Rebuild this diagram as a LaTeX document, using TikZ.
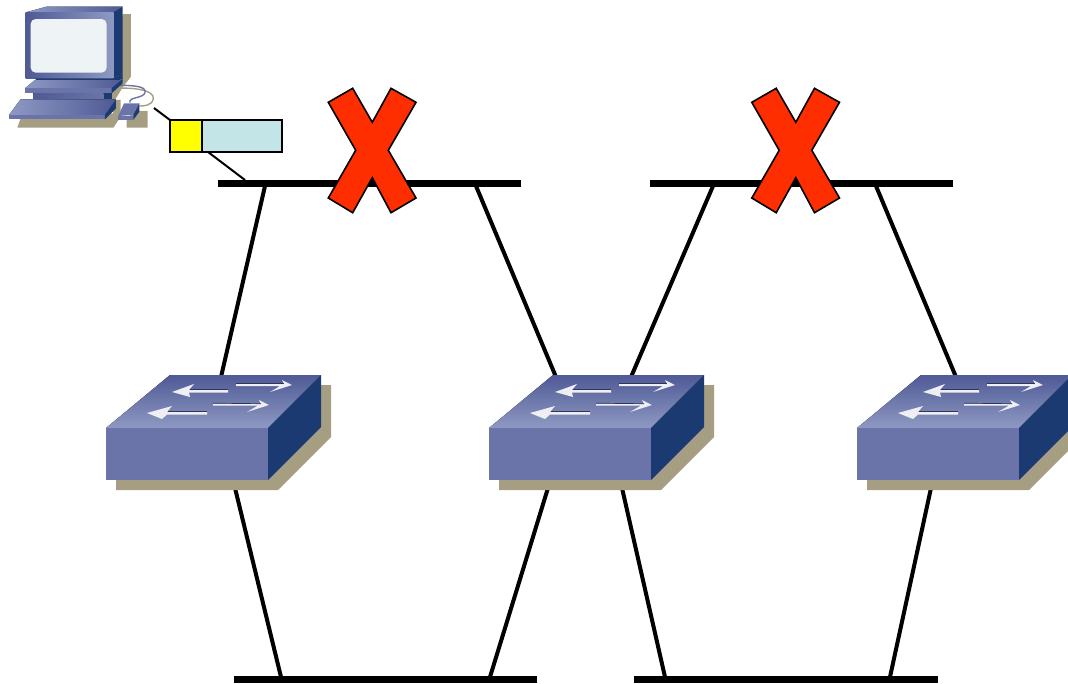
\documentclass[tikz,border=0pt]{standalone}
\definecolor{shadowtan}{HTML}{A69E83}
\definecolor{sideblue}{HTML}{1C3A72}
\definecolor{frontblue}{HTML}{6A74A8}
\definecolor{topback}{HTML}{4F5A96}
\definecolor{topfront}{HTML}{8E99C3}
\definecolor{screenc}{HTML}{EEF3F6}
\definecolor{cardblue}{HTML}{C4E5E8}
\definecolor{cardyellow}{HTML}{FFFF00}
\definecolor{crossred}{HTML}{FF2E00}
\definecolor{arrowwhite}{HTML}{EEEEF4}
\tikzset{
  x=1pt,y=-1pt,
  bar/.style={line width=7.6pt,black},
  link/.style={line width=4pt,black},
  thin link/.style={line width=2pt,black},
  shadowpart/.style={fill=shadowtan,draw=none},
  sidepart/.style={fill=sideblue,draw=none},
  frontpart/.style={fill=frontblue,draw=none},
  toppart/.style={top color=topback,bottom color=topfront,draw=none},
  hgrad/.style={left color=topfront,right color=topback,draw=none},
  cardpart/.style={draw=black,line width=2pt,outer sep=0pt,inner sep=0pt,anchor=north west},
  cross/.style={fill=crossred,draw=black,line width=1.6pt,line join=miter},
  arrowtop/.style={fill=arrowwhite,draw=none},
  arrowedge/.style={draw=topback!60!black,line width=.7pt},
}
\newcommand{\swarrows}{%
  \fill[arrowtop] (147,413)--(172,406)--(167,412)--(207,412)--(207,414.5)--(167,414.5)--(162,419)--cycle;
  \draw[arrowedge] (168,411.5)--(207,411.5);
  \fill[arrowtop] (172,392)--(194,384)--(189,390)--(228,390)--(228,392.5)--(189,392.5)--(190,397)--cycle;
  \draw[arrowedge] (190,389.5)--(228,389.5);
  \fill[arrowtop] (292,385)--(282,380)--(284,384)--(236,384)--(236,386)--(280,386)--(270,392)--cycle;
  \draw[arrowedge] (236,383.7)--(284,383.7);
  \fill[arrowtop] (269,405)--(259,400)--(261,404)--(213,403.5)--(213,405.5)--(258,405.5)--(247,412)--cycle;
  \draw[arrowedge] (213,403.2)--(261,403.7);
}
\newcommand{\switchbox}[2]{%
  \begin{scope}[shift={(#1,0)}]
    \coordinate (#2) at (187,427);
    \fill[shadowpart] (116,480)--(116,490)--(278,490)--(331,437)--(331,385)--(321,385)--(268,480)--cycle;
    \fill[toppart] (106,428)--(170,375)--(321,375)--(268,428)--cycle;
    \fill[frontpart] (106,428) rectangle (268,480);
    \fill[sidepart] (268,428)--(321,375)--(321,427)--(268,480)--cycle;
    \swarrows
  \end{scope}}
\newcommand{\crossmark}[2]{%
  \begin{scope}[shift={(#1,0)}]
    \draw[cross] (328.3,102.3)--(352.7,88.3)--(372.3,122.3)--(391,88.3)--(416,102.3)--(388.3,150.3)--(416,198)--(391,212.7)--(372.3,177.7)--(352.7,212.7)--(328.3,198)--(355.7,150.3)--cycle;
    \coordinate (#2) at (372.3,150.3);
  \end{scope}}
\begin{document}
\begin{tikzpicture}
\useasboundingbox (0,0) rectangle (1068,683);
% bars
\coordinate (ta) at (218,183.5); \coordinate (tb) at (521,183.5);
\coordinate (tc) at (650,183.5); \coordinate (td) at (953,183.5);
\coordinate (ba) at (234,679.5); \coordinate (bb) at (537,679.5);
\coordinate (bc) at (634,679.5); \coordinate (bd) at (938,679.5);
\draw[bar] (ta)--(tb);
\draw[bar] (tc)--(td);
\draw[bar] (ba)--(bb);
\draw[bar] (bc)--(bd);
% connector ends
\coordinate (t1) at (265,186); \coordinate (s1a) at (221,377);
\coordinate (t2) at (476,186); \coordinate (s2a) at (556,377);
\coordinate (t3) at (713,186); \coordinate (s2b) at (631,377);
\coordinate (t4) at (876,186); \coordinate (s3a) at (956,377);
\coordinate (s1b) at (235,488); \coordinate (b1) at (281,677);
\coordinate (s2c) at (548,488); \coordinate (b2) at (490,677);
\coordinate (s2d) at (622,488); \coordinate (b3) at (665,677);
\coordinate (s3b) at (931,488); \coordinate (b4) at (890,677);
\draw[link] (t1)--(s1a);
\draw[link] (t2)--(s2a);
\draw[link] (t3)--(s2b);
\draw[link] (t4)--(s3a);
\draw[link] (s1b)--(b1);
\draw[link] (s2c)--(b2);
\draw[link] (s2d)--(b3);
\draw[link] (s3b)--(b4);
% switches
\switchbox{0}{swa}
\switchbox{383}{swb}
\switchbox{751}{swc}
% crosses
\crossmark{0}{xa}
\crossmark{423.5}{xb}
% computer
\begin{scope}[x=.3333pt,y=-.3333pt]
  \fill[shadowpart] (368,42)--(393,42)--(393,230)--(368,262)--(345,300)--(362,300)--(362,350)--(340,383)--(52,383)--(62,355)--(340,340)--(330,250)--cycle;
  \fill[shadowpart] (380,383)--(443,383)--(443,333)--(400,333)--(380,360)--cycle;
  \draw[shadowtan,line width=1.4pt] (350,265) .. controls (400,262) and (465,270) .. (460,297) .. controls (455,318) and (430,318) .. (418,318);
  \draw[frontblue,line width=1.4pt] (350,256) .. controls (400,256) and (440,258) .. (435,278) .. controls (430,296) and (385,290) .. (390,308);
  % monitor
  \fill[sidepart] (340,37)--(368,20)--(368,220)--(340,235)--cycle;
  \fill[hgrad] (77,37)--(140,20)--(368,20)--(340,37)--cycle;
  \fill[left color=topback,right color=topfront] (77,37) rectangle (340,235);
  \fill[screenc,rounded corners=5pt] (92,57) rectangle (320,218);
  % stand
  \fill[sidepart] (105,235)--(340,235)--(368,220)--(368,237)--(330,247)--(115,247)--cycle;
  \fill[sidepart] (100,280)--(335,280)--(335,298)--(100,298)--cycle;
  \fill[left color=topback,right color=frontblue] (100,280) rectangle (310,298);
  \fill[hgrad] (75,265)--(105,240)--(368,240)--(335,265)--cycle;
  \fill[frontpart] (75,265) rectangle (335,280);
  \fill[sidepart] (335,265)--(368,237)--(368,250)--(335,280)--cycle;
  % keyboard
  \fill[hgrad] (27,345)--(62,298)--(348,298)--(315,345)--cycle;
  \fill[frontpart] (27,345) rectangle (315,358);
  \fill[sidepart] (315,345)--(348,298)--(348,325)--(315,358)--cycle;
  % mouse
  \fill[frontpart] (372,310)--(418,310)--(400,345)--(355,348)--cycle;
  \fill[frontpart] (355,348) rectangle (400,360);
  \fill[sidepart] (400,345)--(418,310)--(418,335)--(400,360)--cycle;
\end{scope}
% card
\coordinate (pc) at (154,108);
\coordinate (tap) at (245,180);
\coordinate (cardout) at (208,152);
\node[cardpart,fill=cardyellow,minimum width=32pt,minimum height=31.5pt] (cy) at (170,120) {};
\node[cardpart,fill=cardblue,minimum width=79.5pt,minimum height=31.5pt] (cb) at (202,120) {};
\draw[thin link] (pc)--(cy.north west);
\draw[thin link] (cardout)--(tap);
\end{tikzpicture}
\end{document}
